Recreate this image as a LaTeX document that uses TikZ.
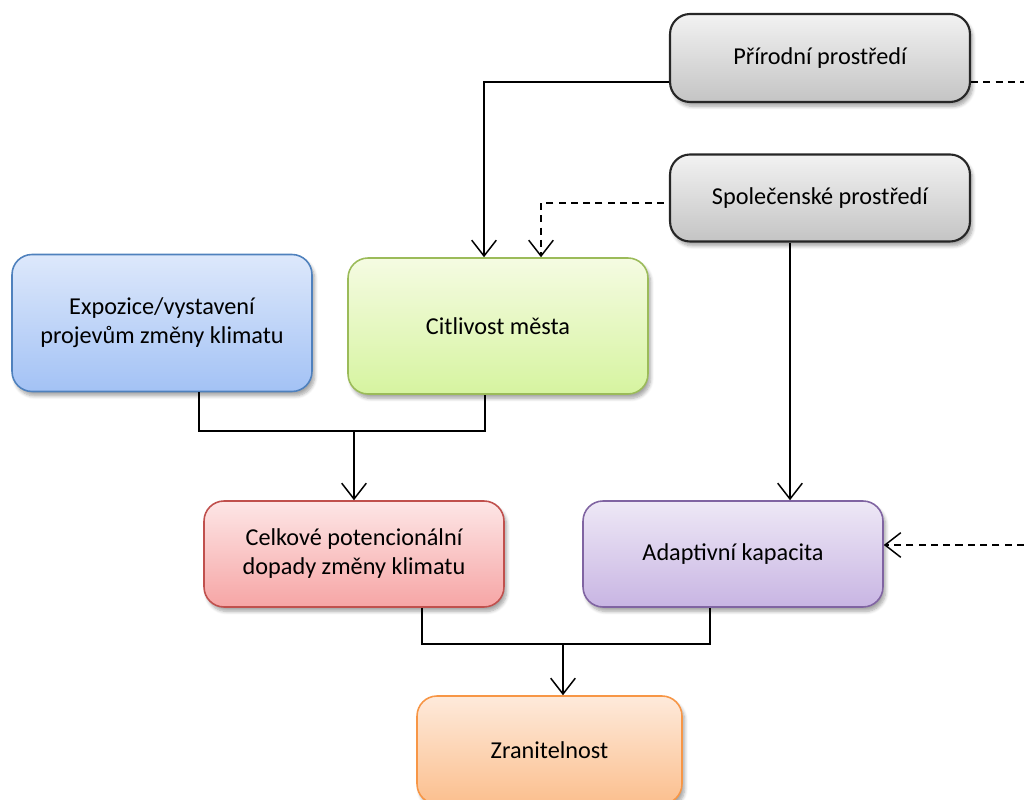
\documentclass[tikz,border=0pt]{standalone}
\usepackage{fontspec}
\setmainfont{Carlito}
\usepackage{xcolor}
\usepackage{tikz}
\usetikzlibrary{shadows,shadows.blur,arrows.meta,calc,positioning}

% box colours
\definecolor{grayTop}{HTML}{F2F2F2}
\definecolor{grayBot}{HTML}{C4C4C4}
\definecolor{blueTop}{HTML}{DDE8FB}
\definecolor{blueBot}{HTML}{A3C2F5}
\definecolor{blueLine}{HTML}{4F81BD}
\definecolor{greenTop}{HTML}{F5FBE2}
\definecolor{greenBot}{HTML}{D6F4A0}
\definecolor{greenLine}{HTML}{9BBB59}
\definecolor{redTop}{HTML}{FDE6E6}
\definecolor{redBot}{HTML}{F6A5A5}
\definecolor{redLine}{HTML}{C0504D}
\definecolor{violetTop}{HTML}{EEE8F6}
\definecolor{violetBot}{HTML}{C8B5E3}
\definecolor{violetLine}{HTML}{8064A2}
\definecolor{orangeTop}{HTML}{FEEADB}
\definecolor{orangeBot}{HTML}{FBBF8E}
\definecolor{orangeLine}{HTML}{F79646}

\tikzset{
    box/.style={rectangle, rounded corners=0.4cm, minimum width=6cm, inner sep=0pt,
        align=center, font=\fontsize{13.8}{16.5}\selectfont, line width=0.9pt,
        blur shadow={shadow xshift=1.5pt, shadow yshift=-2.5pt, shadow blur steps=6, shadow opacity=35}},
    graybox/.style={box, draw=black!85, line width=1.2pt, top color=grayTop, bottom color=grayBot},
    bluebox/.style={box, draw=blueLine, top color=blueTop, bottom color=blueBot},
    greenbox/.style={box, draw=greenLine, top color=greenTop, bottom color=greenBot},
    redbox/.style={box, draw=redLine, top color=redTop, bottom color=redBot},
    violetbox/.style={box, draw=violetLine, top color=violetTop, bottom color=violetBot},
    orangebox/.style={box, draw=orangeLine, top color=orangeTop, bottom color=orangeBot},
    conn/.style={line width=0.85pt, -{Straight Barb[length=9pt, width=14pt, line width=0.85pt]}},
    dconn/.style={conn, dashed, dash pattern=on 4pt off 3pt},
    link/.style={line width=0.85pt}
}

\begin{document}
\begin{tikzpicture}[x=0.02cm, y=-0.02cm]
        \useasboundingbox (0,0) rectangle (1024,800);

        % Boxes
        \node[graybox, minimum height=1.76cm] (pri) at (820,58) {Přírodní prostředí};
        \node[graybox, minimum height=1.74cm] (spo) at (820,198) {Společenské prostředí};
        \node[bluebox, minimum height=2.74cm] (exp) at (162,323) {Expozice/vystavení\\projevům změny klimatu};
        \node[greenbox, minimum height=2.72cm] (cit) at (498,326) {Citlivost města};
        \node[redbox, minimum height=2.12cm] (cel) at (354,554) {Celkové potencionální\\dopady změny klimatu};
        \node[violetbox, minimum height=2.12cm] (ada) at (733,554) {Adaptivní kapacita};
        \node[orangebox, minimum width=5.3cm, minimum height=2.16cm] (zra) at (549.5,750) {Zranitelnost};

        % Junctions and free ends
        \coordinate (jexp) at (354,431);
        \coordinate (jcel) at (563,644);
        \coordinate (rtop) at (1024,82);
        \coordinate (rmid) at (1024,545);

        % Connectors to Citlivost
        \draw[conn] ($(pri.west)+(0,24)$) -| ($(cit.north)+(-14,0)$);
        \draw[dconn] ($(spo.west)+(-5,5)$) -| ($(cit.north)+(43,0)$);
        \draw[link, dashed, dash pattern=on 4pt off 3pt] ($(pri.east)+(0,24)$) -- (rtop);

        % Connectors to Adaptivni kapacita
        \draw[conn] ($(spo.south)+(-30,0)$) -- ($(ada.north)+(57,0)$);
        \draw[dconn] (rmid) -- (rmid -| ada.east);

        % Exposure + sensitivity -> impacts
        \draw[link] ($(exp.south)+(37,0)$) |- (jexp) -| ($(cit.south)+(-13,0)$);
        \draw[conn] (jexp) -- (cel.north);

        % Impacts + capacity -> vulnerability
        \draw[link] ($(cel.south)+(68,0)$) |- (jcel) -| ($(ada.south)+(-23,0)$);
        \draw[conn] (jcel) -- (jcel |- zra.north);
    \end{tikzpicture}
\end{document}
